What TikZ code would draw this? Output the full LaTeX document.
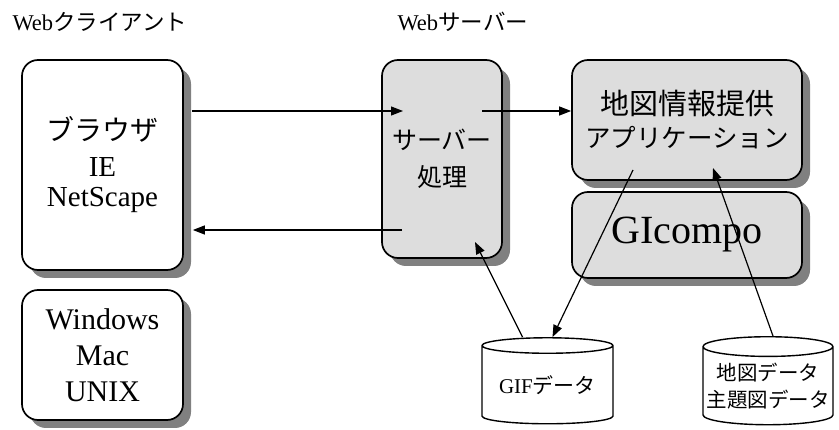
\documentclass[tikz,border=0pt]{standalone}
\usepackage{fontspec}
\setmainfont{Liberation Serif}
\newfontfamily\jp{Noto Sans CJK JP}
\usetikzlibrary{shapes.geometric,shadows,arrows.meta}
\definecolor{boxgray}{RGB}{221,221,221}
\definecolor{shadowgray}{RGB}{128,128,128}

\begin{document}
\begin{tikzpicture}[x=1pt,y=-1pt,
  box/.style={draw,line width=1.7pt,rounded corners=16pt,align=center,
    inner sep=0pt,fill=white,
    drop shadow={shadow xshift=8pt,shadow yshift=-8pt,fill=shadowgray,opacity=1}},
  graybox/.style={box,fill=boxgray},
  db/.style={draw,line width=1.4pt,cylinder,shape border rotate=90,aspect=0.16,
    align=center,inner sep=0pt,fill=white},
  arr/.style={line width=1.2pt,-{Triangle[length=12pt,width=9pt]}}]
\useasboundingbox (0,0) rectangle (839,430);

% headings
\node[anchor=west,font=\fontsize{22.5}{26}\selectfont] (clientlbl) at (9,22) {Web{\jp クライアント}};
\node[anchor=west,font=\fontsize{22.5}{26}\selectfont] (serverlbl) at (394,22) {Web{\jp サーバー}};

% client side
\node[box,minimum width=161pt,minimum height=210pt,font=\fontsize{29}{30}\selectfont] (browser) at (102.5,165)
  {{\jp\fontsize{28}{34}\selectfont ブラウザ}\\[6pt] IE\\ NetScape};
\node[box,minimum width=161pt,minimum height=130pt,font=\fontsize{30}{36}\selectfont] (os) at (102.5,355)
  {Windows\\ Mac\\ UNIX};

% server side
\node[graybox,minimum width=120pt,minimum height=198pt,font=\jp\fontsize{25}{37}\selectfont] (server) at (442,159)
  {サーバー\\ 処理};
\node[graybox,minimum width=230pt,minimum height=120pt,font=\jp\fontsize{25.5}{33}\selectfont] (app) at (687,120)
  {{\fontsize{29}{33}\selectfont 地図情報提供}\\ アプリケーション};
\node[graybox,minimum width=230pt,minimum height=86pt,font=\fontsize{40}{40}\selectfont] (gicompo) at (687,235)
  {GIcompo};

% data stores
\node[db,minimum width=131pt,minimum height=86pt,font=\fontsize{21}{26}\selectfont] (gif) at (547.5,385)
  {GIF{\jp データ}};
\node[db,minimum width=130pt,minimum height=88pt,font=\jp\fontsize{20.5}{27}\selectfont] (data) at (768,386)
  {地図データ\\ 主題図データ};

% connectors
\coordinate (srvin) at (403,111);
\coordinate (srvout) at (482,111);
\coordinate (srvback) at (402,230);
\coordinate (srvgif) at (475,242);
\coordinate (appout) at (633,170);
\coordinate (appin) at (713,168);

\draw[arr] ([xshift=8pt]browser.east |- srvin) -- (srvin);
\draw[arr] (srvout) -- (app.west |- srvout);
\draw[arr] (srvback) -- ([xshift=9pt]browser.east |- srvback);
\draw[arr] (appout) -- ([xshift=5pt]gif.north);
\draw[arr] ([xshift=-25pt]gif.north) -- (srvgif);
\draw[arr] ([xshift=5pt]data.north) -- (appin);
\end{tikzpicture}
\end{document}
